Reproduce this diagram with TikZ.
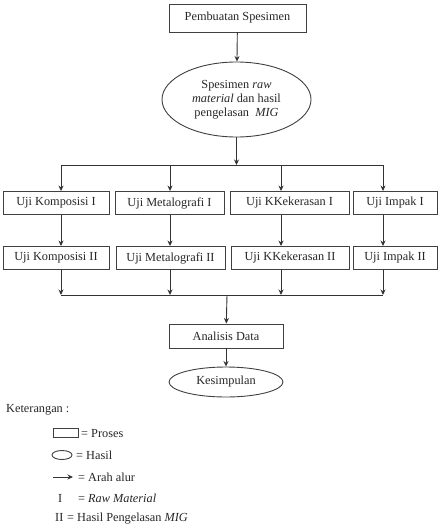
\documentclass[tikz,border=0pt]{standalone}
\usepackage{fontspec}
\setmainfont{Liberation Serif}
\usetikzlibrary{arrows.meta,shapes.geometric}
\begin{document}
\begin{tikzpicture}[x=1pt,y=-1pt,
  every node/.style={text=black!85, font=\fontsize{12.3}{14}\selectfont},
  proc/.style={draw=black!75, line width=0.9pt, rectangle, inner sep=0pt, minimum height=23pt},
  res/.style={draw=black!75, line width=0.9pt, ellipse, inner sep=0pt, align=center},
  flow/.style={draw=black!80, line width=0.9pt, -{Stealth[length=5.5pt,width=5pt]}},
  ln/.style={draw=black!80, line width=0.9pt},
  lbl/.style={anchor=base west, inner sep=0pt}]
\useasboundingbox (0,0) rectangle (441,525);

% main flow
\node[proc, minimum width=137pt, minimum height=28pt] (ps) at (237.5,18) {Pembuatan Spesimen};
\node[res, minimum width=149pt, minimum height=75pt] (sp) at (236.5,99.5)
  {Spesimen \textit{raw}\\ \textit{material} dan hasil\\ pengelasan\ \ \textit{MIG}};

\coordinate (t0) at (236.5,165);
\coordinate (t1) at (61,165);
\coordinate (t2) at (170,165);
\coordinate (t3) at (281,165);
\coordinate (t4) at (383,165);

\node[proc, minimum width=106pt] (k1) at (56,203) {Uji Komposisi I};
\node[proc, minimum width=109pt] (m1) at (169.5,203) {Uji Metalografi I};
\node[proc, minimum width=119pt] (h1) at (289.5,203) {Uji KKekerasan I};
\node[proc, minimum width=84pt] (i1) at (395,203) {Uji Impak I};

\node[proc, minimum width=106pt] (k2) at (56,258) {Uji Komposisi II};
\node[proc, minimum width=109pt] (m2) at (170.5,258) {Uji Metalografi II};
\node[proc, minimum width=118pt] (h2) at (290,258) {Uji KKekerasan II};
\node[proc, minimum width=84pt] (i2) at (395,258) {Uji Impak II};

\coordinate (b0) at (227,295);
\coordinate (b1) at (61,295);
\coordinate (b2) at (170,295);
\coordinate (b3) at (281,295);
\coordinate (b4) at (383,295);

\node[proc, minimum width=114pt, minimum height=24pt] (ad) at (226,336) {Analisis Data};
\node[res, minimum width=114pt, minimum height=30pt] (ks) at (226,382) {Kesimpulan};

\draw[flow] (ps) -- (sp);
\draw[flow] (sp) -- (t0);
\draw[ln] (t1) -- (t4);
\draw[flow] (t1) -- (t1 |- k1.north);
\draw[flow] (t2) -- (t2 |- m1.north);
\draw[flow] (t3) -- (t3 |- h1.north);
\draw[flow] (t4) -- (t4 |- i1.north);
\draw[flow] (t1 |- k1.south) -- (t1 |- k2.north);
\draw[flow] (t2 |- m1.south) -- (t2 |- m2.north);
\draw[flow] (t3 |- h1.south) -- (t3 |- h2.north);
\draw[flow] (t4 |- i1.south) -- (t4 |- i2.north);
\draw[flow] (b1 |- k2.south) -- (b1);
\draw[flow] (b2 |- m2.south) -- (b2);
\draw[flow] (b3 |- h2.south) -- (b3);
\draw[flow] (b4 |- i2.south) -- (b4);
\draw[ln] (b1) -- (b4);
\draw[flow] (b0) -- (ad);
\draw[flow] (ad) -- (ks);

% legend
\node[lbl] (ket) at (6,412) {Keterangan :};
\node[draw=black!75, line width=0.9pt, rectangle, inner sep=0pt, minimum width=25pt, minimum height=9pt] (lr) at (65.5,432.5) {};
\node[lbl] (lrt) at (81,437) {= Proses};
\node[draw=black!75, line width=0.9pt, ellipse, inner sep=0pt, minimum width=20pt, minimum height=9pt] (le) at (62,455) {};
\node[lbl] (let) at (76,459) {= Hasil};
\coordinate (la0) at (53,477);
\coordinate (la1) at (73,477);
\draw[flow] (la0) -- (la1);
\node[lbl] (lat) at (78,481) {= Arah alur};
\node[lbl] (l1) at (58,502) {I};
\node[lbl] (l1t) at (78,502) {= \textit{Raw Material}};
\node[lbl] (l2) at (55,521) {II};
\node[lbl] (l2t) at (67,521) {= Hasil Pengelasan \textit{MIG}};
\end{tikzpicture}
\end{document}
